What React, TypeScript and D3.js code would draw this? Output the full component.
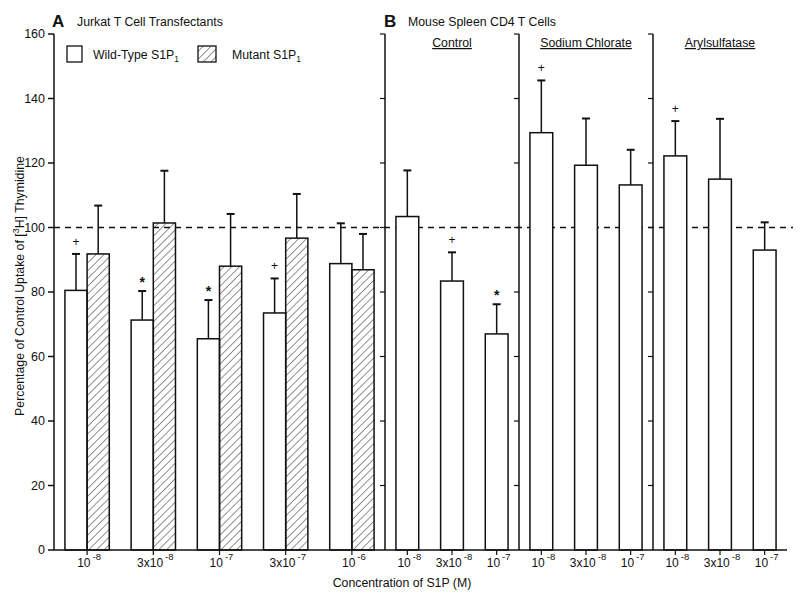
import React from "react";
import * as d3 from "d3";

// ---- data ----
const groupsA = ["10^-8", "3x10^-8", "10^-7", "3x10^-7", "10^-6"];
const wildType = [80.5, 71.3, 65.5, 73.5, 88.8];
const wildTypeErr = [91.8, 80.3, 77.5, 84.2, 101.3];
const wildTypeMark = ["+", "*", "*", "+", ""];
const mutant = [91.8, 101.4, 88.0, 96.7, 86.9];
const mutantErr = [106.8, 117.6, 104.2, 110.4, 98.0];

const panelsB = ["Control", "Sodium Chlorate", "Arylsulfatase"];
const concB = ["10^-8", "3x10^-8", "10^-7"];
const valuesB = [103.4, 83.4, 67.0, 129.4, 119.3, 113.2, 122.2, 115.0, 93.0];
const errB = [117.7, 92.3, 76.2, 145.6, 133.8, 124.1, 133.0, 133.7, 101.6];
const markB = ["", "+", "*", "+", "", "", "+", "", ""];

const yTicks = [0, 20, 40, 60, 80, 100, 120, 140, 160];

const FONT = "'Liberation Sans', Arial, Helvetica, sans-serif";
const FS = 12.3;

function ConcLabel({ x, y, label }: { x: number; y: number; label: string }) {
  const [base, exp] = label.split("^");
  return (
    <text x={x} y={y} textAnchor="middle" fontSize={12} fontFamily={FONT} fill="#111">
      {base}
      <tspan dx={2} dy={-7} fontSize={9.5}>{exp}</tspan>
    </text>
  );
}

export default function App() {
  const W = 800, H = 604;
  const x0 = 54, xMid = 385, x1 = 787, yTop = 34, yBot = 550;
  const y = d3.scaleLinear().domain([0, 160]).range([yBot, yTop]);

  const xA = d3.scaleBand<string>().domain(groupsA).range([x0, xMid]).paddingInner(0.33).paddingOuter(0.165);
  const labelsB = panelsB.flatMap((p) => concB.map((c) => p + "|" + c));
  const xB = d3.scaleBand<string>().domain(labelsB).range([xMid, x1]).paddingInner(0.49).paddingOuter(0.245);
  const stepB = xB.step();
  const panelLines = panelsB.map((_, k) => xMid + k * 3 * stepB);

  const stroke = "#111";
  const sw = 1.5;
  const capW = 8;

  const errBar = (cx: number, v: number, e: number, key: string) => (
    <g key={key}>
      <line x1={cx} x2={cx} y1={y(v)} y2={y(e)} stroke={stroke} strokeWidth={sw} />
      <line x1={cx - capW / 2} x2={cx + capW / 2} y1={y(e)} y2={y(e)} stroke={stroke} strokeWidth={2} />
    </g>
  );

  const marker = (cx: number, e: number, m: string, key: string) =>
    m ? (
      <text key={key} x={cx} y={m === "*" ? y(e) - 4 : y(e) - 8} textAnchor="middle"
        fontSize={m === "*" ? 14 : 12} fontWeight={m === "*" ? "bold" : "normal"} fontFamily={FONT} fill={stroke}>
        {m}
      </text>
    ) : null;

  const bwA = xA.bandwidth() / 2;
  const bwB = xB.bandwidth();

  return (
    <svg width={W} height={H} style={{ position: "absolute", left: 0, top: 0, background: "#fff" }}>
      <defs>
        <pattern id="hatch" patternUnits="userSpaceOnUse" width={5.5} height={5.5} patternTransform="rotate(45)">
          <line x1={0} y1={0} x2={0} y2={5.5} stroke="#222" strokeWidth={1} />
        </pattern>
      </defs>
      <rect x={0} y={0} width={W} height={H} fill="#fff" />

      {/* dashed 100% line */}
      <line x1={x0} x2={793} y1={y(100)} y2={y(100)} stroke={stroke} strokeWidth={1.3} strokeDasharray="6,5" />

      {/* Panel A bars */}
      {groupsA.map((g, i) => {
        const bx = xA(g)!;
        return (
          <g key={g}>
            <rect x={bx} y={y(wildType[i])} width={bwA} height={y(0) - y(wildType[i])} fill="#fff" stroke={stroke} strokeWidth={sw} />
            {errBar(bx + bwA / 2, wildType[i], wildTypeErr[i], "we" + i)}
            {marker(bx + bwA / 2, wildTypeErr[i], wildTypeMark[i], "wm" + i)}
            <rect x={bx + bwA} y={y(mutant[i])} width={bwA} height={y(0) - y(mutant[i])} fill="url(#hatch)" stroke={stroke} strokeWidth={sw} />
            {errBar(bx + bwA * 1.5, mutant[i], mutantErr[i], "me" + i)}
          </g>
        );
      })}

      {/* Panel B bars */}
      {labelsB.map((l, i) => {
        const bx = xB(l)!;
        const cx = bx + bwB / 2;
        return (
          <g key={l}>
            <rect x={bx} y={y(valuesB[i])} width={bwB} height={y(0) - y(valuesB[i])} fill="#fff" stroke={stroke} strokeWidth={sw} />
            {errBar(cx, valuesB[i], errB[i], "be" + i)}
            {marker(cx, errB[i], markB[i], "bm" + i)}
          </g>
        );
      })}

      {/* Left axis */}
      <line x1={x0} x2={x0} y1={y(160)} y2={y(0)} stroke={stroke} strokeWidth={sw} />
      {yTicks.map((t) => (
        <g key={"yt" + t}>
          <line x1={x0 - 6} x2={x0} y1={y(t)} y2={y(t)} stroke={stroke} strokeWidth={sw} />
          <text x={x0 - 9} y={y(t)} dy="0.35em" textAnchor="end" fontSize={12.5} fontFamily={FONT} fill="#111">{t}</text>
        </g>
      ))}

      {/* Panel B vertical lines */}
      {panelLines.map((px, k) => (
        <g key={"pl" + k}>
          <line x1={px} x2={px} y1={y(160)} y2={y(0)} stroke={stroke} strokeWidth={sw} />
          {yTicks.filter((t) => t > 0).map((t) => (
            <line key={t} x1={px - 5} x2={px} y1={y(t)} y2={y(t)} stroke={stroke} strokeWidth={1.2} />
          ))}
          <text x={px + 1.5 * stepB} y={47} textAnchor="middle" fontSize={FS} fontFamily={FONT} fill="#111" textDecoration="underline">
            {panelsB[k]}
          </text>
        </g>
      ))}

      {/* x axis */}
      <line x1={x0} x2={x1} y1={y(0)} y2={y(0)} stroke={stroke} strokeWidth={sw} />
      {groupsA.map((g) => {
        const cx = xA(g)! + xA.bandwidth() / 2;
        return (
          <g key={"xa" + g}>
            <line x1={cx} x2={cx} y1={y(0)} y2={y(0) + 5} stroke={stroke} strokeWidth={1.2} />
            <ConcLabel x={cx + 2} y={567} label={g} />
          </g>
        );
      })}
      {labelsB.map((l) => {
        const cx = xB(l)! + bwB / 2;
        return (
          <g key={"xb" + l}>
            <line x1={cx} x2={cx} y1={y(0)} y2={y(0) + 5} stroke={stroke} strokeWidth={1.2} />
            <ConcLabel x={cx + 2} y={567} label={l.split("|")[1]} />
          </g>
        );
      })}

      {/* axis titles */}
      <text x={402} y={587} textAnchor="middle" fontSize={FS} fontFamily={FONT} fill="#111">Concentration of S1P (M)</text>
      <text transform={`translate(24,${(yTop + yBot) / 2 - 6}) rotate(-90)`} textAnchor="middle" fontSize={FS} fontFamily={FONT} fill="#111">
        Percentage of Control Uptake of [<tspan dy={-5} fontSize={9}>3</tspan><tspan dy={5}>H] Thymidine</tspan>
      </text>

      {/* panel titles */}
      <text x={52} y={27} fontSize={17} fontWeight="bold" fontFamily={FONT} fill="#111">A</text>
      <text x={77} y={26} fontSize={FS} fontFamily={FONT} fill="#111">Jurkat T Cell Transfectants</text>
      <text x={384} y={27} fontSize={17} fontWeight="bold" fontFamily={FONT} fill="#111">B</text>
      <text x={408} y={26} fontSize={FS} fontFamily={FONT} fill="#111">Mouse Spleen CD4 T Cells</text>

      {/* legend */}
      <rect x={67} y={46} width={15} height={16} fill="#fff" stroke={stroke} strokeWidth={1.3} />
      <text x={93} y={59} fontSize={FS} fontFamily={FONT} fill="#111">
        Wild-Type S1P<tspan dy={3} fontSize={8.5}>1</tspan>
      </text>
      <rect x={198} y={46} width={18} height={16} fill="url(#hatch)" stroke={stroke} strokeWidth={1.3} />
      <text x={232} y={59} fontSize={FS} fontFamily={FONT} fill="#111">
        Mutant S1P<tspan dy={3} fontSize={8.5}>1</tspan>
      </text>
    </svg>
  );
}
